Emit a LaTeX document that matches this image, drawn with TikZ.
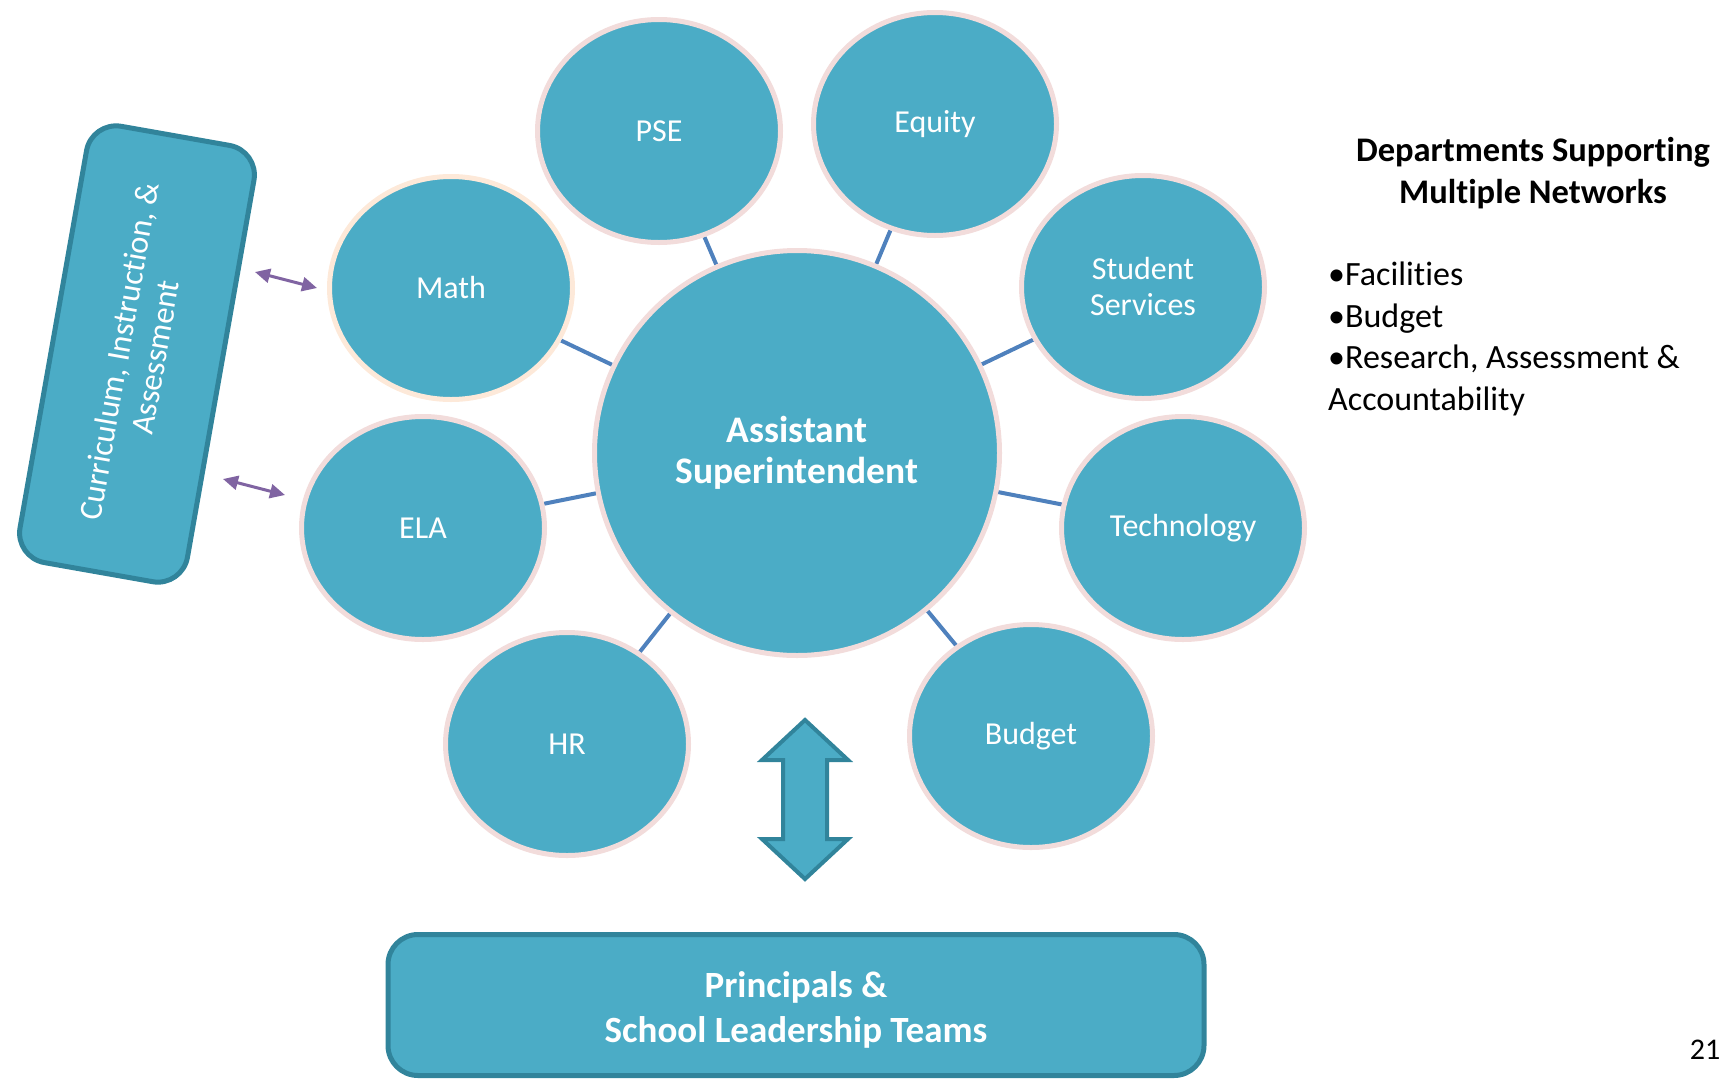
\documentclass[tikz,border=0pt]{standalone}
\usepackage{fontspec}
\setmainfont{Carlito}[Ligatures=CommonOff]
\usetikzlibrary{shapes.geometric,arrows.meta,backgrounds}
\definecolor{aquafill}{HTML}{4BACC6}
\definecolor{aquaedge}{HTML}{31849B}
\definecolor{pinkrim}{HTML}{F2DCDB}
\definecolor{peachrim}{HTML}{FDE9D9}
\definecolor{spokeblue}{HTML}{4F81BD}
\definecolor{lilac}{HTML}{8064A2}
\begin{document}
\begin{tikzpicture}[x=1pt,y=1pt]
                \tikzstyle{every node}+=[inner sep=0pt]
                \tikzstyle{dept}=[ellipse,fill=aquafill,draw=pinkrim,line width=5pt,minimum width=243pt,minimum height=223pt,text=white,align=center,font=\fontsize{32}{36}\selectfont]
                \tikzstyle{hub}=[circle,fill=aquafill,draw=pinkrim,line width=5pt,minimum size=405pt,text=white,align=center,font=\fontsize{37.5}{41}\selectfont\bfseries]
                \tikzstyle{panel}=[rectangle,rounded corners=30pt,fill=aquafill,draw=aquaedge,line width=5pt,text=white,align=center]
                \tikzstyle{spoke}=[draw=spokeblue,line width=4pt]
                \tikzstyle{link}=[draw=lilac,line width=3pt,{Triangle[length=15pt,width=14pt]}-{Triangle[length=15pt,width=14pt]}]
                \useasboundingbox (0,0) rectangle (1731,-1079);
                \node [hub] (ast) at (797,-453) {Assistant\\Superintendent};
                \node [dept] (pse) at (659,-131) {PSE};
                \node [dept] (equity) at (935,-124) {Equity};
                \node [dept,draw=peachrim] (math) at (451,-288) {Math};
                \node [dept] (stud) at (1143,-287) {Student\\Services};
                \node [dept] (ela) at (423,-528) {ELA};
                \node [dept] (tech) at (1183,-528) {Technology};
                \node [dept] (hr) at (567,-744) {HR};
                \node [dept] (budget) at (1031,-736) {Budget};
                \begin{scope}[on background layer]
                \draw [spoke] (pse) -- (ast);
                \draw [spoke] (equity) -- (ast);
                \draw [spoke] (math) -- (ast);
                \draw [spoke] (stud) -- (ast);
                \draw [spoke] (ela) -- (ast);
                \draw [spoke] (tech) -- (ast);
                \draw [spoke] (hr) -- (ast);
                \draw [spoke] (budget) -- (ast);
                \end{scope}
                \node [panel,rotate=80,minimum width=443pt,minimum height=170pt,font=\fontsize{32.5}{37}\selectfont] (cia) at (137,-354) {Curriculum, Instruction, \&\\Assessment};
                \coordinate (ciamath) at (255,-272);
                \coordinate (mathend) at (317,-288);
                \coordinate (ciaela) at (223,-479);
                \coordinate (elaend) at (285,-495);
                \draw [link] (ciamath) -- (mathend);
                \draw [link] (ciaela) -- (elaend);
                \node [panel,minimum width=816pt,minimum height=141pt,font=\fontsize{37}{45}\selectfont\bfseries] (prin) at (796,-1005) {\rule{0pt}{36pt}Principals \&\\School Leadership Teams};
                \coordinate (updown) at (805,-800);
                \draw [fill=aquafill,draw=aquaedge,line width=4pt] (updown) ++(0,80) -- ++(43,-40) -- ++(-21,0) -- ++(0,-79) -- ++(21,0) -- ++(-43,-40) -- ++(-43,40) -- ++(21,0) -- ++(0,79) -- ++(-21,0) -- cycle;
                \node [align=center,anchor=north,font=\fontsize{34.5}{42}\selectfont\bfseries] (multi) at (1533,-137) {Departments Supporting\\Multiple Networks};
                \node [align=left,anchor=north west,font=\fontsize{34}{41.5}\selectfont] (shared) at (1328,-262) {•Facilities\\•Budget\\•Research, Assessment \&\\Accountability};
                \node [font=\fontsize{30}{36}\selectfont] (pagenum) at (1705,-1050) {21};
              \end{tikzpicture}
\end{document}
